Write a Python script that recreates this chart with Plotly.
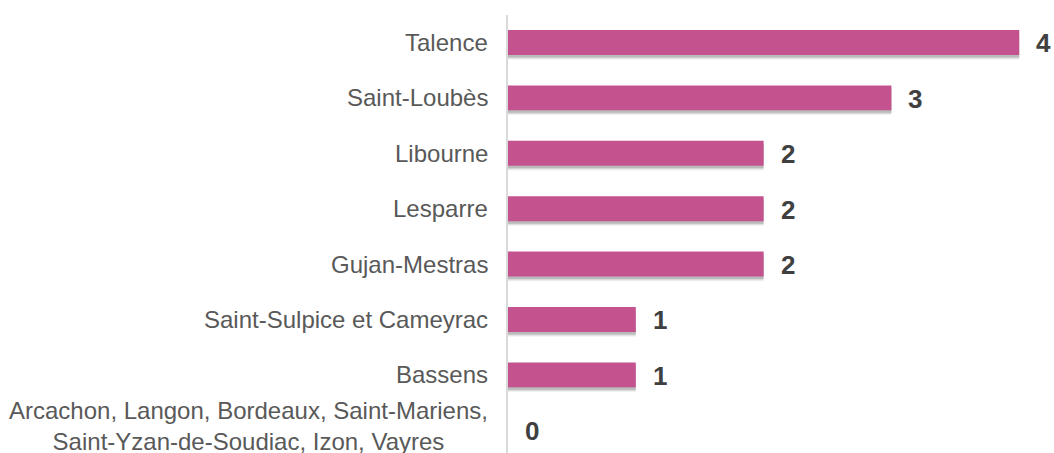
import plotly.graph_objects as go

categories = [
    "Talence",
    "Saint-Loubès",
    "Libourne",
    "Lesparre",
    "Gujan-Mestras",
    "Saint-Sulpice et Cameyrac",
    "Bassens",
    "Arcachon, Langon, Bordeaux, Saint-Mariens,<br>Saint-Yzan-de-Soudiac, Izon, Vayres",
]
values = [4, 3, 2, 2, 2, 1, 1, 0]
value_labels = ["4", "3", "2", "2", "2", "1", "1", "0"]

BAR_COLOR = "#C4528F"
FONT = "Arial, Liberation Sans, sans-serif"
bar_w = 0.45

fig = go.Figure()

# soft shadow layers
for off, alpha in [(0.085, 0.07), (0.065, 0.12), (0.045, 0.20)]:
    fig.add_trace(go.Bar(
        y=categories, x=values, orientation="h",
        width=bar_w, offset=-bar_w / 2 + off,
        marker=dict(color=f"rgba(60,60,60,{alpha})", line=dict(width=0)),
        hoverinfo="skip", showlegend=False,
    ))

fig.add_trace(go.Bar(
    y=categories, x=values, orientation="h",
    width=bar_w, offset=-bar_w / 2,
    marker=dict(color=BAR_COLOR, line=dict(width=0)),
    showlegend=False,
))

annotations = []
for cat, v, lab in zip(categories, values, value_labels):
    annotations.append(dict(
        x=v, y=cat, xref="x", yref="y", text=lab, showarrow=False,
        xanchor="left", yanchor="middle", xshift=15, yshift=-1,
        font=dict(family=FONT, size=26, color="#404040", weight="bold"),
    ))
    annotations.append(dict(
        x=0, y=cat, xref="x", yref="y", text=cat, showarrow=False,
        xanchor="right", yanchor="middle", xshift=-18, align="center",
        yshift=4 if "<br>" in cat else 0,
        font=dict(family=FONT, size=24, color="#595959"),
    ))

fig.update_layout(
    width=1054, height=453,
    margin=dict(l=508, r=22, t=15, b=0),
    paper_bgcolor="white", plot_bgcolor="white",
    barmode="overlay",
    annotations=annotations,
    xaxis=dict(range=[0, 4.1], showgrid=False, zeroline=False,
               showticklabels=False, showline=False, fixedrange=True),
    yaxis=dict(range=[7.41, -0.496], showgrid=False, zeroline=False,
               showticklabels=False, showline=True, linecolor="#D9D9D9",
               linewidth=2, ticks="", fixedrange=True),
)

fig.write_html(
    "out.html",
    config={"displayModeBar": False},
    post_script="document.body.style.margin='0';document.body.style.overflow='hidden';",
)
